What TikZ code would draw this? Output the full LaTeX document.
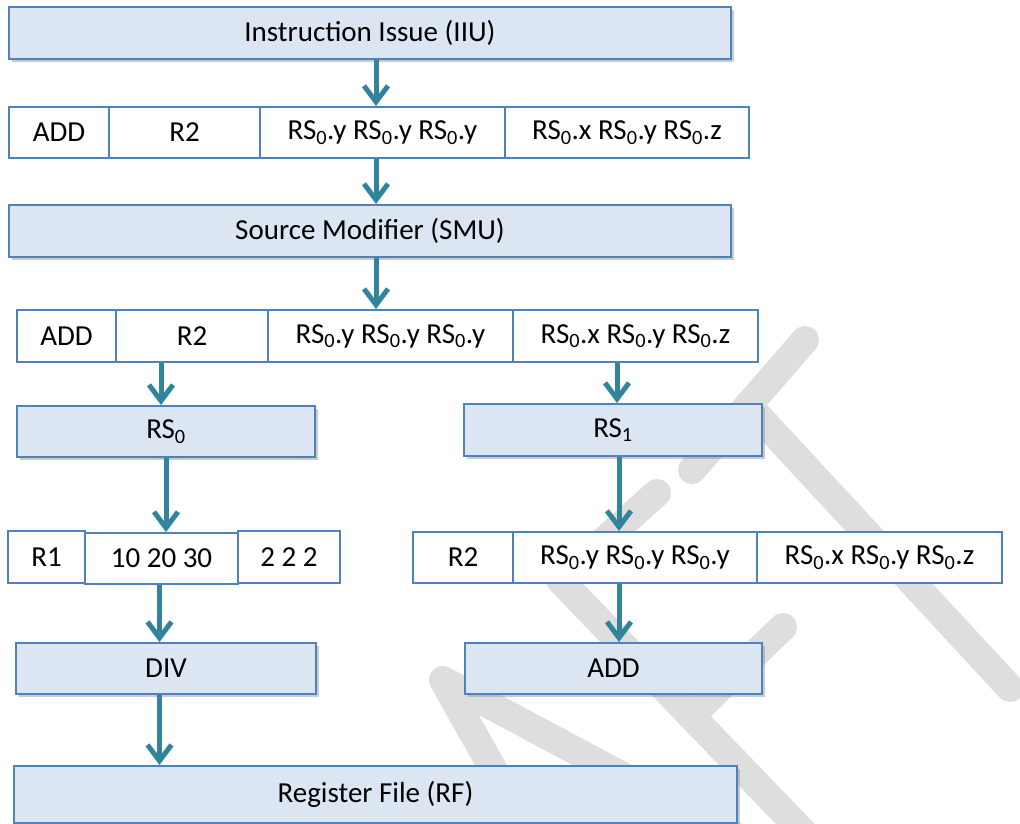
\documentclass[tikz,border=0pt]{standalone}
\usepackage{fontspec}
\setmainfont{Carlito}
\usetikzlibrary{arrows.meta,shadows}

\definecolor{unitfill}{HTML}{DCE6F2}
\definecolor{unitline}{HTML}{4F81BD}
\definecolor{flowteal}{HTML}{31849B}
\definecolor{markgray}{HTML}{DEDEDE}
\newcommand{\rsx}[1]{RS\textsubscript{#1}}

\begin{document}
\begin{tikzpicture}[x=1pt,y=-1pt,
	font=\fontsize{29}{35}\selectfont,
	wh/.style 2 args={minimum width=#1pt,minimum height=#2pt},
	unit/.style={draw=unitline,line width=2pt,fill=unitfill,inner sep=0pt,
		drop shadow={shadow xshift=3pt,shadow yshift=-3pt,fill=black!45,opacity=.45}},
	cell/.style={draw=unitline,line width=2pt,fill=white,inner sep=0pt},
	flow/.style={draw=flowteal,line width=5pt,-{Straight Barb[length=16pt,width=24pt]}},
	wmark/.style={draw=markgray,line width=28pt,line cap=round,line join=round}]
					\useasboundingbox (0,0) rectangle (1020,824);
					
					% Watermark strokes in the background
					\begin{scope}
						\clip (0,0) rectangle (1020,824);
						\draw[wmark] (805,340) -- (692,470); % T bar
						\draw[wmark] (748,405) -- (1010,688); % T stem
						\draw[wmark] (657,493) -- (560,580) -- (830,860); % F top arm and stem
						\draw[wmark] (783,627) -- (691,716); % F middle arm
						\draw[wmark] (550,870) -- (443,680) -- (780,860); % A legs
					\end{scope}
					
					% Issue unit and first instruction row
					\node[unit,wh={722}{52}] (iiu) at (370,33) {Instruction Issue (IIU)};
					\node[cell,wh={100}{51}] (add1) at (59,132.5) {ADD};
					\node[cell,wh={151}{51}] (r21) at (184.5,132.5) {R2};
					\node[cell,wh={245}{51}] (ya1) at (382.5,132.5) {\rsx0.y \rsx0.y \rsx0.y};
					\node[cell,wh={244}{51}] (xyz1) at (627,132.5) {\rsx0.x \rsx0.y \rsx0.z};
					
					% Source modifier and modified row
					\node[unit,wh={722}{52}] (smu) at (370,231) {Source Modifier (SMU)};
					\node[cell,wh={99}{52}] (add2) at (66.5,336) {ADD};
					\node[cell,wh={152}{52}] (r22) at (192,336) {R2};
					\node[cell,wh={245}{52}] (ya2) at (390.5,336) {\rsx0.y \rsx0.y \rsx0.y};
					\node[cell,wh={245}{52}] (xyz2) at (635.5,336) {\rsx0.x \rsx0.y \rsx0.z};
					
					% Reservation stations
					\node[unit,wh={298}{51}] (rs0) at (166,431.5) {\rsx0};
					\node[unit,wh={298}{52}] (rs1) at (613,430) {\rsx1};
					
					% Rows leaving the stations
					\node[cell,wh={77}{52}] (r1) at (46.5,557) {R1};
					\node[cell,wh={153}{51}] (nums) at (161.5,558.5) {10 20 30};
					\node[cell,wh={102}{52}] (twos) at (289,557) {2 2 2};
					\node[cell,wh={100}{51}] (r23) at (463,557.5) {R2};
					\node[cell,wh={244}{51}] (ya3) at (635,557.5) {\rsx0.y \rsx0.y \rsx0.y};
					\node[cell,wh={245}{51}] (xyz3) at (879.5,557.5) {\rsx0.x \rsx0.y \rsx0.z};
					
					% Execution units and register file
					\node[unit,wh={300}{51}] (div) at (166,668.5) {DIV};
					\node[unit,wh={297}{51}] (addu) at (613.5,668.5) {ADD};
					\node[unit,wh={723}{57}] (rf) at (375.5,794.5) {Register File (RF)};
					
					% Flow arrows
					\draw[flow] ([xshift=6pt]iiu.south) -- ([xshift=6pt]iiu.south |- ya1.north);
					\draw[flow] ([xshift=6pt]iiu.south |- ya1.south) -- ([xshift=6pt]smu.north);
					\draw[flow] ([xshift=6pt]smu.south) -- ([xshift=6pt]smu.south |- ya2.north);
					\draw[flow] ([xshift=-5pt]rs0.north |- r22.south) -- ([xshift=-5pt]rs0.north);
					\draw[flow] ([xshift=4pt]rs1.north |- xyz2.south) -- ([xshift=4pt]rs1.north);
					\draw[flow] (rs0.south) -- (rs0.south |- nums.north);
					\draw[flow] ([xshift=6pt]rs1.south) -- ([xshift=6pt]rs1.south |- ya3.north);
					\draw[flow] ([xshift=-2pt]nums.south) -- ([xshift=-2pt]nums.south |- div.north);
					\draw[flow] ([xshift=6pt]rs1.south |- ya3.south) -- ([xshift=6pt]rs1.south |- addu.north);
					\draw[flow] ([xshift=-2pt]nums.south |- div.south) -- ([xshift=-2pt]nums.south |- rf.north);
				\end{tikzpicture}
\end{document}
